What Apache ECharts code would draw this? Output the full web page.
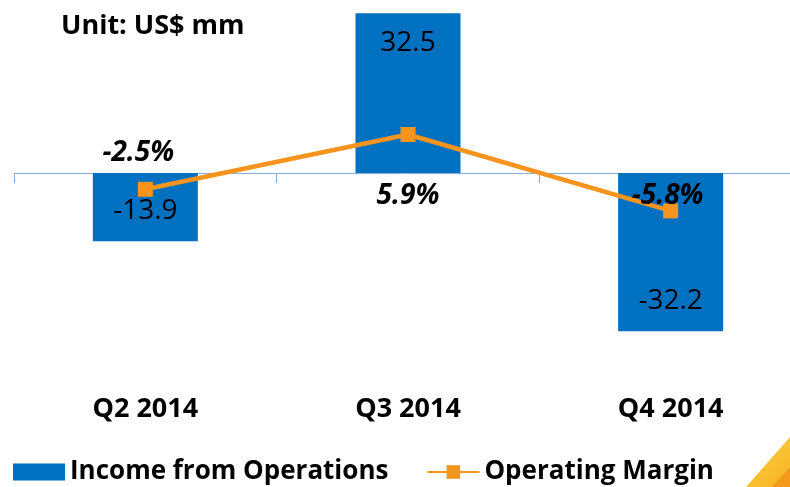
<!DOCTYPE html>
<html>
<head>
<meta charset="utf-8">
<script src="https://cdn.jsdelivr.net/npm/echarts@6/dist/echarts.min.js"></script>
<style>
  html, body { margin: 0; padding: 0; background: #fff; }
  #main { width: 790px; height: 487px; }
</style>
</head>
<body>
<div id="main"></div>
<script>
var categories = ['Q2 2014', 'Q3 2014', 'Q4 2014'];
var incomeValues = [-13.9, 32.5, -32.2];
var marginValues = [-2.5, 5.9, -5.8];

var FONT = '"Open Sans"';
var BLUE = '#0070C0';
var ORANGE = '#F7941D';

var myChart = echarts.init(document.getElementById('main'));

// Excel "inside end" labels: top of positive bars, bottom of negative ones
var barData = incomeValues.map(function (v) {
    return {
        value: v,
        label: { position: v >= 0 ? 'insideTop' : 'insideBottom', distance: v >= 0 ? 16 : 16 }
    };
});

// margin labels, placed like the original
var marginLabelPos = [
    { position: 'top', distance: 15, offset: [-7, 0] },
    { position: 'bottom', distance: 40, offset: [0, 0] },
    { position: 'top', distance: -7, offset: [-3, 0] }
];
var lineData = marginValues.map(function (v, i) {
    return { value: v, label: marginLabelPos[i] };
});

var option = {
    animation: false,
    title: {
        text: 'Unit: US$ mm',
        left: 56,
        top: 8,
        textStyle: { fontFamily: FONT, fontWeight: 'bold', fontSize: 27, color: '#000' }
    },
    legend: {
        left: 8,
        top: 454,
        itemWidth: 52,
        itemHeight: 17,
        itemGap: 38,
        textStyle: { fontFamily: FONT, fontWeight: 'bold', fontSize: 26, color: '#000' },
        data: [{ name: 'Income from Operations', icon: 'rect' }, 'Operating Margin']
    },
    grid: { left: 14, width: 788, top: 0, height: 346, outerBoundsMode: 'none' },
    xAxis: [{
        type: 'category',
        data: categories,
        position: 'bottom',
        axisLine: { show: false, onZero: false },
        axisTick: { show: false },
        axisLabel: {
            margin: 50,
            fontFamily: FONT, fontWeight: 'bold', fontSize: 27, color: '#000'
        }
    }, {
        // zero line with ticks between categories
        type: 'category',
        data: categories,
        position: 'bottom',
        axisLine: { show: true, onZero: true, lineStyle: { color: '#8EAADB', width: 1 } },
        axisTick: { show: true, inside: false, length: 10, lineStyle: { color: '#8EAADB' } },
        axisLabel: { show: false }
    }],
    yAxis: [{
        type: 'value',
        min: -35.2,
        max: 35.2,
        show: false,
        splitLine: { show: false }
    }, {
        type: 'value',
        min: -26.5,
        max: 26.5,
        show: false,
        splitLine: { show: false }
    }],
    series: [{
        name: 'Income from Operations',
        type: 'bar',
        xAxisIndex: 0,
        yAxisIndex: 0,
        barWidth: 105,
        itemStyle: { color: BLUE },
        label: {
            show: true,
            fontFamily: FONT, fontSize: 28, color: '#000',
            formatter: function (p) { return p.value.toFixed(1); }
        },
        data: barData
    }, {
        name: 'Operating Margin',
        type: 'line',
        xAxisIndex: 0,
        yAxisIndex: 1,
        symbol: 'rect',
        symbolSize: 15,
        lineStyle: { color: ORANGE, width: 4.5 },
        itemStyle: { color: ORANGE },
        label: {
            show: true,
            fontFamily: FONT, fontSize: 28, fontWeight: 'bold', fontStyle: 'italic', color: '#000',
            formatter: function (p) { return p.value.toFixed(1) + '%'; }
        },
        data: lineData
    }],
    graphic: [{
        type: 'polygon',
        shape: { points: [[746, 487], [790, 437], [790, 487]] },
        style: {
            fill: new echarts.graphic.LinearGradient(0, 0, 1, 1, [
                { offset: 0, color: '#FBD24A' },
                { offset: 1, color: '#F6B21E' }
            ])
        },
        silent: true
    }, {
        type: 'polygon',
        shape: { points: [[772, 487], [790, 467], [790, 487]] },
        style: { fill: '#F39A1E' },
        silent: true
    }]
};

myChart.setOption(option);
</script>
</body>
</html>
